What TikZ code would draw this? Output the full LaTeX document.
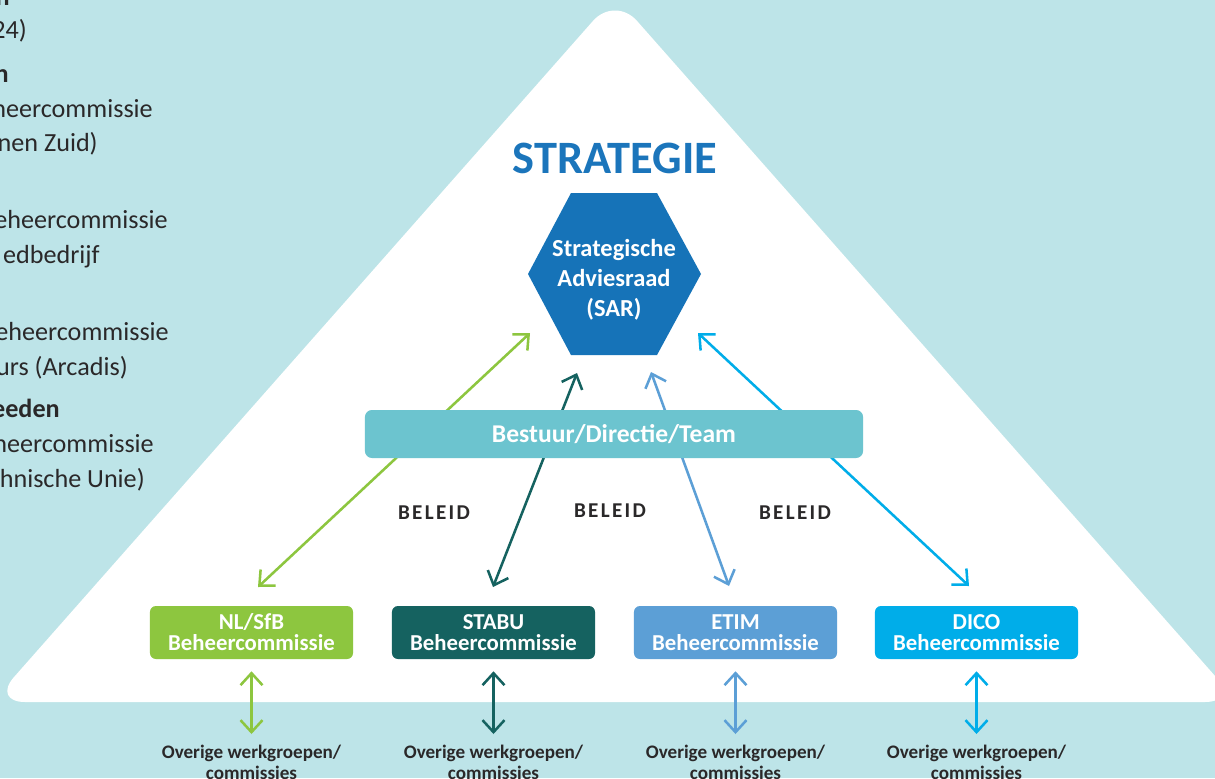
\documentclass[tikz,border=0pt]{standalone}
\usepackage{fontspec}
\setmainfont{Carlito}
\usetikzlibrary{arrows.meta,positioning,calc}
\definecolor{bg}{HTML}{BDE4E8}
\definecolor{ink}{HTML}{2A2829}
\definecolor{strat}{HTML}{1B75BB}
\definecolor{hexc}{HTML}{1673B8}
\definecolor{bar}{HTML}{6CC4CF}
\definecolor{cg}{HTML}{8DC63F}
\definecolor{cs}{HTML}{156260}
\definecolor{ce}{HTML}{5C9FD6}
\definecolor{cd}{HTML}{00ADE9}
\tikzset{
  cbox/.style={rounded corners=1.5mm,minimum width=50.75mm,minimum height=13.25mm,inner sep=0pt,align=center,text=white,font=\fontsize{16.2}{15}\selectfont\bfseries},
  dbl/.style={{Straight Barb[length=3mm,width=5.5mm]}-{Straight Barb[length=3mm,width=5.5mm]},line width=1.8pt},
  side/.style={anchor=base east,inner sep=0pt,text=ink,font=\fontsize{18.6}{21}\selectfont},
  sideb/.style={side,font=\fontsize{18.6}{21}\selectfont\bfseries},
  low/.style={anchor=north,inner sep=0pt,align=center,text=ink,font=\fontsize{13.6}{14.6}\selectfont\bfseries},
  bel/.style={text=ink,inner sep=0pt,font=\fontsize{15}{16}\selectfont\bfseries\addfontfeature{LetterSpace=11}}
}
\begin{document}
\begin{tikzpicture}[x=0.025cm,y=-0.025cm]
\fill[bg] (0,0) rectangle (1215,778);
\useasboundingbox (0,0) rectangle (1215,778);
\fill[white,rounded corners=8.25mm] (615,-4) -- (1238,702) -- (-8,702) -- cycle;
% clipped text on the left
\node[sideb] (l1) at (10,5) {n};
\node[side] (l2) at (27,38) {24)};
\node[sideb] (l3) at (9,82) {n};
\node[side] (l4) at (153,117) {heercommissie};
\node[side] (l5) at (98,151) {nen Zuid)};
\node[side] (l6) at (168,228) {eheercommissie};
\node[side] (l7) at (100,263) {edbedrijf};
\node[side] (l8) at (169,340) {eheercommissie};
\node[side] (l9) at (128,375) {urs (Arcadis)};
\node[sideb] (l10) at (60,417) {eeden};
\node[side] (l11) at (154,452) {heercommissie};
\node[side] (l12) at (145,487) {hnische Unie)};
% top
\node[text=strat,font=\fontsize{33}{34}\selectfont\bfseries] (tit) at (615,158) {STRATEGIE};
\fill[hexc] (528,274) -- (571,193) -- (657,193) -- (701,274) -- (657,355) -- (571,355) -- cycle;
\node[align=center,text=white,font=\fontsize{17.4}{21.3}\selectfont\bfseries] (sar) at (614,280) {Strategische\\Adviesraad\\(SAR)};
% boxes
\node[cbox,fill=cg] (nl) at (251.5,632.5) {NL/SfB\\Beheercommissie};
\node[cbox,fill=cs] (st) at (493.5,632.5) {STABU\\Beheercommissie};
\node[cbox,fill=ce] (et) at (735.5,632.5) {ETIM\\Beheercommissie};
\node[cbox,fill=cd] (dc) at (976.5,632.5) {DICO\\Beheercommissie};
% long arrows
\coordinate (g1) at (258,587);
\coordinate (g2) at (530,333);
\coordinate (s1) at (493,587);
\coordinate (s2) at (577,373);
\coordinate (e1) at (729,586);
\coordinate (e2) at (651,372);
\coordinate (d1) at (969,586);
\coordinate (d2) at (698,333);
\draw[dbl,cg] (g1) -- (g2);
\draw[dbl,cs] (s1) -- (s2);
\draw[dbl,ce] (e1) -- (e2);
\draw[dbl,cd] (d1) -- (d2);
\node[fill=bar,rounded corners=1.75mm,minimum width=124.5mm,minimum height=12mm,text=white,font=\fontsize{18.2}{20}\selectfont\bfseries] (bdt) at (614,434) {Bestuur/Directie/Team};
\node[bel] (b1) at (434,513) {BELEID};
\node[bel] (b2) at (610,511) {BELEID};
\node[bel] (b3) at (795,513) {BELEID};
% lower groups
\node[low] (nlo) at (251.5,745) {Overige werkgroepen/\\commissies};
\node[low] (sto) at (493.5,745) {Overige werkgroepen/\\commissies};
\node[low] (eto) at (735.5,745) {Overige werkgroepen/\\commissies};
\node[low] (dco) at (976.5,745) {Overige werkgroepen/\\commissies};
\draw[dbl,cg] ([yshift=-3mm]nl.south) -- ([yshift=2.75mm]nlo.north);
\draw[dbl,cs] ([yshift=-3mm]st.south) -- ([yshift=2.75mm]sto.north);
\draw[dbl,ce] ([yshift=-3mm]et.south) -- ([yshift=2.75mm]eto.north);
\draw[dbl,cd] ([yshift=-3mm]dc.south) -- ([yshift=2.75mm]dco.north);
\end{tikzpicture}
\end{document}
